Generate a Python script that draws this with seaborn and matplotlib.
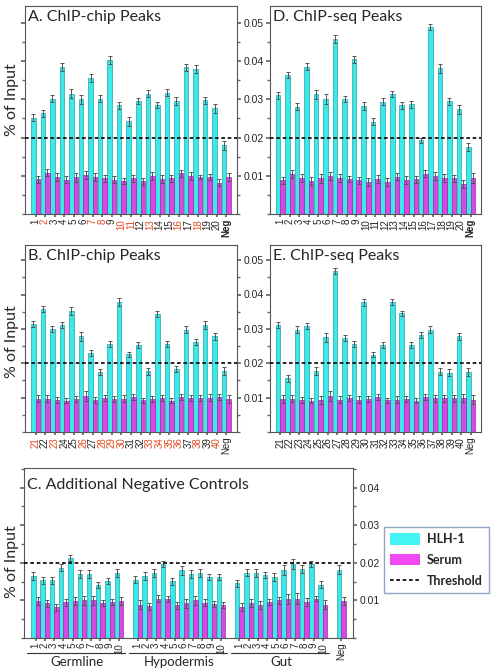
import numpy as np
import pandas as pd
import matplotlib
matplotlib.use("Agg")
import matplotlib.pyplot as plt
import matplotlib.transforms as mtransforms
from matplotlib.ticker import MultipleLocator
from matplotlib.lines import Line2D
from matplotlib.patches import Patch
import seaborn as sns

# ---- data (% of input) ----
sites_a = [str(i) for i in range(1, 21)] + ["Neg"]
hlh_a = [0.0252, 0.0263, 0.0302, 0.0385, 0.0315, 0.0300, 0.0355, 0.0302, 0.0402, 0.0284, 0.0242,
         0.0295, 0.0315, 0.0285, 0.0317, 0.0296, 0.0384, 0.0380, 0.0297, 0.0277, 0.0180]
serum_a = [0.0091, 0.0108, 0.0097, 0.0090, 0.0096, 0.0102, 0.0096, 0.0093, 0.0090, 0.0086, 0.0093,
           0.0086, 0.0100, 0.0091, 0.0093, 0.0107, 0.0100, 0.0097, 0.0097, 0.0082, 0.0097]
hlh_a_err = [0.0010, 0.0009, 0.0009, 0.0010, 0.0011, 0.0012, 0.0011, 0.0008, 0.0010, 0.0009, 0.0011,
             0.0008, 0.0009, 0.0009, 0.0009, 0.0010, 0.0009, 0.0011, 0.0010, 0.0012, 0.0012]
serum_a_err = [0.0009, 0.0009, 0.0010, 0.0009, 0.0012, 0.0011, 0.0010, 0.0008, 0.0009, 0.0008, 0.0010,
               0.0009, 0.0010, 0.0010, 0.0009, 0.0009, 0.0011, 0.0006, 0.0008, 0.0010, 0.0010]
red_a = ["2", "7", "8", "10", "11", "13", "16", "18"]

hlh_d = [0.0311, 0.0363, 0.0281, 0.0385, 0.0313, 0.0301, 0.0458, 0.0301, 0.0405, 0.0283, 0.0241,
         0.0294, 0.0314, 0.0284, 0.0287, 0.0193, 0.0489, 0.0381, 0.0295, 0.0274, 0.0175]
serum_d = [0.0088, 0.0104, 0.0095, 0.0086, 0.0093, 0.0100, 0.0095, 0.0091, 0.0088, 0.0083, 0.0091,
           0.0083, 0.0098, 0.0089, 0.0091, 0.0105, 0.0099, 0.0094, 0.0094, 0.0079, 0.0094]
hlh_d_err = [0.0009, 0.0008, 0.0009, 0.0009, 0.0011, 0.0012, 0.0010, 0.0008, 0.0009, 0.0010, 0.0009,
             0.0009, 0.0008, 0.0009, 0.0009, 0.0007, 0.0007, 0.0011, 0.0009, 0.0012, 0.0011]
serum_d_err = [0.0010, 0.0010, 0.0010, 0.0010, 0.0012, 0.0011, 0.0010, 0.0008, 0.0009, 0.0011, 0.0010,
               0.0010, 0.0010, 0.0010, 0.0009, 0.0009, 0.0010, 0.0011, 0.0009, 0.0011, 0.0012]

sites_b = [str(i) for i in range(21, 41)] + ["Neg"]
hlh_b = [0.0314, 0.0357, 0.0300, 0.0311, 0.0352, 0.0278, 0.0230, 0.0175, 0.0256, 0.0378, 0.0226,
         0.0254, 0.0177, 0.0344, 0.0255, 0.0183, 0.0298, 0.0261, 0.0312, 0.0278, 0.0177]
serum_b = [0.0097, 0.0097, 0.0092, 0.0091, 0.0096, 0.0105, 0.0094, 0.0100, 0.0096, 0.0097, 0.0102,
           0.0092, 0.0096, 0.0099, 0.0091, 0.0102, 0.0099, 0.0100, 0.0100, 0.0102, 0.0096]
hlh_b_err = [0.0009, 0.0009, 0.0009, 0.0009, 0.0011, 0.0012, 0.0010, 0.0009, 0.0009, 0.0011, 0.0008,
             0.0009, 0.0010, 0.0008, 0.0009, 0.0008, 0.0010, 0.0009, 0.0011, 0.0010, 0.0011]
serum_b_err = [0.0010, 0.0010, 0.0009, 0.0008, 0.0010, 0.0014, 0.0009, 0.0009, 0.0009, 0.0010, 0.0009,
               0.0008, 0.0009, 0.0009, 0.0008, 0.0008, 0.0010, 0.0009, 0.0010, 0.0010, 0.0011]
red_b = ["21", "23", "26", "28", "29", "30", "33", "34", "35", "36", "38", "40"]

hlh_e = [0.0312, 0.0156, 0.0298, 0.0309, 0.0178, 0.0276, 0.0469, 0.0273, 0.0256, 0.0378, 0.0225,
         0.0253, 0.0378, 0.0345, 0.0254, 0.0282, 0.0298, 0.0175, 0.0173, 0.0278, 0.0175]
serum_e = [0.0096, 0.0097, 0.0093, 0.0091, 0.0094, 0.0104, 0.0094, 0.0099, 0.0094, 0.0096, 0.0101,
           0.0092, 0.0094, 0.0097, 0.0091, 0.0101, 0.0098, 0.0098, 0.0098, 0.0100, 0.0094]
hlh_e_err = [0.0009, 0.0010, 0.0010, 0.0009, 0.0011, 0.0013, 0.0009, 0.0008, 0.0010, 0.0010, 0.0008,
             0.0009, 0.0008, 0.0008, 0.0009, 0.0009, 0.0010, 0.0010, 0.0011, 0.0011, 0.0012]
serum_e_err = [0.0011, 0.0010, 0.0008, 0.0008, 0.0012, 0.0014, 0.0010, 0.0008, 0.0010, 0.0010, 0.0009,
               0.0008, 0.0010, 0.0009, 0.0008, 0.0009, 0.0011, 0.0010, 0.0010, 0.0012, 0.0013]

groups_c = ["Germline", "Hypodermis", "Gut"]
hlh_c = [0.0165, 0.0153, 0.0153, 0.0187, 0.0213, 0.0171, 0.0171, 0.0142, 0.0151, 0.0173,
         0.0155, 0.0165, 0.0173, 0.0197, 0.0151, 0.0180, 0.0171, 0.0173, 0.0162, 0.0162,
         0.0145, 0.0174, 0.0173, 0.0167, 0.0162, 0.0180, 0.0197, 0.0183, 0.0196, 0.0142,
         0.0181]
serum_c = [0.0098, 0.0092, 0.0082, 0.0095, 0.0098, 0.0100, 0.0101, 0.0093, 0.0095, 0.0098,
           0.0089, 0.0084, 0.0105, 0.0104, 0.0087, 0.0092, 0.0100, 0.0094, 0.0090, 0.0088,
           0.0082, 0.0093, 0.0088, 0.0096, 0.0100, 0.0103, 0.0105, 0.0096, 0.0105, 0.0089,
           0.0099]
hlh_c_err = [0.0010, 0.0010, 0.0010, 0.0009, 0.0008, 0.0011, 0.0011, 0.0008, 0.0008, 0.0010,
             0.0009, 0.0010, 0.0010, 0.0008, 0.0009, 0.0012, 0.0011, 0.0010, 0.0008, 0.0009,
             0.0009, 0.0010, 0.0010, 0.0008, 0.0010, 0.0013, 0.0013, 0.0010, 0.0008, 0.0009,
             0.0012]
serum_c_err = [0.0011, 0.0010, 0.0009, 0.0010, 0.0010, 0.0011, 0.0012, 0.0009, 0.0008, 0.0010,
               0.0011, 0.0010, 0.0009, 0.0009, 0.0009, 0.0011, 0.0012, 0.0009, 0.0008, 0.0009,
               0.0010, 0.0010, 0.0010, 0.0008, 0.0010, 0.0013, 0.0014, 0.0011, 0.0007, 0.0011,
               0.0011]

cyan, cyan_edge = "#3ce8e8", "#22a4a8"
magenta, magenta_edge = "#d948e4", "#9a2ea2"
red = "#e8481e"
dash = (0, (2.2, 1.6))

sns.set_theme(style="ticks")
plt.rcParams["font.family"] = ["Liberation Sans", "DejaVu Sans"]
plt.rcParams["axes.edgecolor"] = "#555555"
plt.rcParams["axes.linewidth"] = 0.8


def draw_panel(ax, keys, order, hlh, serum, hlh_err, serum_err, xpad):
    df = pd.DataFrame({
        "site": keys * 2,
        "series": ["HLH-1"] * len(keys) + ["Serum"] * len(keys),
        "value": hlh + serum,
    })
    sns.barplot(data=df, x="site", y="value", hue="series", order=order,
                hue_order=["HLH-1", "Serum"], palette=[cyan, magenta], saturation=1,
                width=0.95, errorbar=None, legend=False, linewidth=0.5, ax=ax)
    for cont, edge, errs in zip(list(ax.containers)[:2], [cyan_edge, magenta_edge], [hlh_err, serum_err]):
        bars = sorted([b for b in cont.patches if np.isfinite(b.get_height())], key=lambda b: b.get_x())
        for b in bars:
            b.set_edgecolor(edge)
        xs = [b.get_x() + b.get_width() / 2 for b in bars]
        ys = [b.get_height() for b in bars]
        ax.errorbar(xs, ys, yerr=errs, fmt="none", ecolor="#555555",
                    elinewidth=0.7, capsize=1.6, capthick=0.7, zorder=3)
    ax.axhline(0.02, color="black", lw=1.2, ls=dash, zorder=4)
    ax.set_xlim(-xpad, len(order) - 1 + xpad)
    ax.set_xlabel("")
    ax.set_ylabel("")
    ax.yaxis.set_major_locator(MultipleLocator(0.01))
    ax.yaxis.set_minor_locator(MultipleLocator(0.005))
    ax.tick_params(axis="y", which="both", direction="out", color="#666666", labelsize=7.5, pad=2)
    ax.tick_params(axis="y", which="major", length=3)
    ax.tick_params(axis="y", which="minor", length=2.5)
    ax.tick_params(axis="x", length=2, color="#666666", labelsize=7, pad=1.5, labelrotation=90)
    for s in ax.spines.values():
        s.set_visible(True)
        s.set_color("#555555")
    ax.set_facecolor("white")


def set_labels(ax, positions, labels, red_list, bold_neg):
    ax.set_xticks(positions)
    ax.set_xticklabels(labels)
    for t in ax.get_xticklabels():
        if t.get_text() in red_list:
            t.set_color(red)
        if t.get_text() == "Neg" and bold_neg:
            t.set_fontweight("bold")


def add_title(ax, text, dy=-3):
    ax.annotate(text, xy=(0, 1), xycoords="axes fraction", xytext=(2.5, dy),
                textcoords="offset points", ha="left", va="top",
                fontsize=11.5, family=["Lato", "DejaVu Sans"])


def fmt_y(ax, right_labels):
    ax.set_yticks([0.01, 0.02, 0.03, 0.04, 0.05] if ax.get_ylim()[1] > 0.05 else [0.01, 0.02, 0.03, 0.04])
    ax.set_yticklabels(["0.01", "0.02", "0.03", "0.04", "0.05"][:len(ax.get_yticks())])
    ax.tick_params(axis="y", which="both", left=True, right=right_labels,
                   labelleft=False, labelright=right_labels)


fig = plt.figure(figsize=(4.93, 6.71), dpi=100)
W, H = 493, 671


def add_ax(x0, x1, y0, y1):
    return fig.add_axes([x0 / W, 1 - y1 / H, (x1 - x0) / W, (y1 - y0) / H])


ax_a = add_ax(25, 237, 6, 214)
ax_d = add_ax(270, 481, 6, 214)
ax_b = add_ax(25, 237, 245, 432)
ax_e = add_ax(270, 481, 245, 432)
ax_c = add_ax(24, 353, 468, 638)

draw_panel(ax_a, sites_a, sites_a, hlh_a, serum_a, hlh_a_err, serum_a_err, 1.1)
draw_panel(ax_d, sites_a, sites_a, hlh_d, serum_d, hlh_d_err, serum_d_err, 1.1)
draw_panel(ax_b, sites_b, sites_b, hlh_b, serum_b, hlh_b_err, serum_b_err, 1.1)
draw_panel(ax_e, sites_b, sites_b, hlh_e, serum_e, hlh_e_err, serum_e_err, 1.1)

# panel C: three tissue groups of ten with a gap between them, then Neg
keys_c, order_c, tick_pos_c, tick_lab_c = [], [], [], []
for gi, g in enumerate(groups_c):
    for i in range(1, 11):
        keys_c.append(f"{g} {i}")
        order_c.append(f"{g} {i}")
        tick_pos_c.append(len(order_c) - 1)
        tick_lab_c.append(str(i))
    order_c.append(" " * (gi + 1))
keys_c.append("Neg")
order_c.append("Neg")
tick_pos_c.append(len(order_c) - 1)
tick_lab_c.append("Neg")
draw_panel(ax_c, keys_c, order_c, hlh_c, serum_c, hlh_c_err, serum_c_err, 1.25)

for ax in [ax_a, ax_d, ax_b, ax_e]:
    ax.set_ylim(0, 0.0544)
ax_c.set_ylim(0, 0.0452)

fmt_y(ax_a, True)
fmt_y(ax_b, True)
fmt_y(ax_d, False)
fmt_y(ax_e, False)
fmt_y(ax_c, True)

set_labels(ax_a, range(len(sites_a)), sites_a, red_a, True)
set_labels(ax_d, range(len(sites_a)), sites_a, [], True)
set_labels(ax_b, range(len(sites_b)), sites_b, red_b, False)
set_labels(ax_e, range(len(sites_b)), sites_b, [], False)
set_labels(ax_c, tick_pos_c, tick_lab_c, [], False)

add_title(ax_a, "A. ChIP-chip Peaks")
add_title(ax_d, "D. ChIP-seq Peaks")
add_title(ax_b, "B. ChIP-chip Peaks")
add_title(ax_e, "E. ChIP-seq Peaks")
add_title(ax_c, "C. Additional Negative Controls", dy=-7)

# tissue group labels under panel C
trans = mtransforms.blended_transform_factory(ax_c.transData, ax_c.transAxes)
for gi, g in enumerate(groups_c):
    first, last = gi * 11, gi * 11 + 9
    ax_c.plot([first - 0.9, last + 0.7], [-0.09, -0.09], color="#333333", lw=0.8,
              transform=trans, clip_on=False)
    ax_c.text((first + last) / 2, -0.105, g, transform=trans, ha="center", va="top",
              fontsize=9.5, family=["Lato", "DejaVu Sans"])

for yc in [100, 342, 562]:
    fig.text(12.5 / W, 1 - yc / H, "% of Input", rotation=90, ha="center", va="center",
             fontsize=11.5, family=["Lato", "DejaVu Sans"])

handles = [Patch(facecolor="#44f4f4", edgecolor="none"),
           Patch(facecolor="#f048f0", edgecolor="none"),
           Line2D([], [], color="black", lw=1.2, ls=dash)]
leg = fig.legend(handles, ["HLH-1", "Serum", "Threshold"], loc="upper left",
                 bbox_to_anchor=(384 / W, 1 - 527 / H), frameon=True, fancybox=False,
                 edgecolor="#8fa6c6", framealpha=1,
                 prop=dict(family=["Lato", "DejaVu Sans"], weight="bold", size=9),
                 handlelength=2.4, handleheight=1.0, borderpad=0.5, labelspacing=0.7,
                 handletextpad=0.55, borderaxespad=0)
leg.get_frame().set_linewidth(1.0)

fig.savefig("out.png", dpi=100, facecolor="white")
